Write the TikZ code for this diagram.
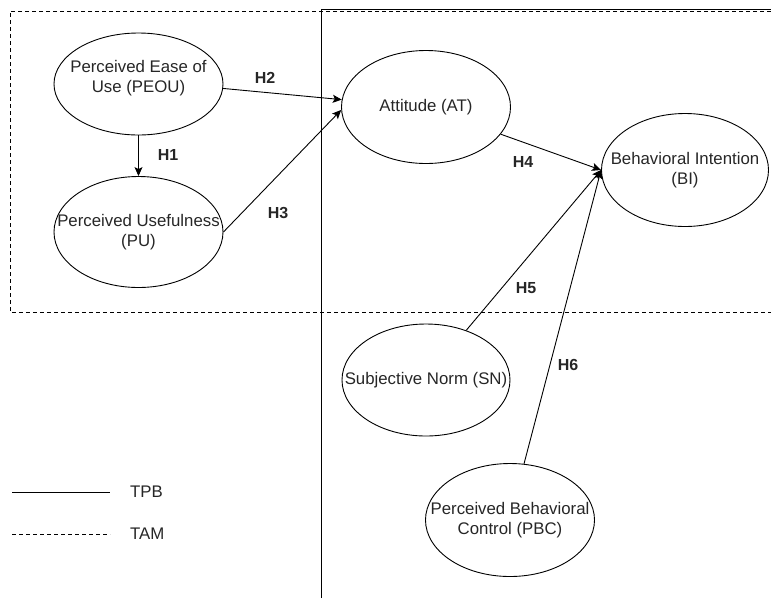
\documentclass[tikz,border=0pt]{standalone}
\usepackage{fontspec}
\setmainfont{Liberation Sans}
\usetikzlibrary{shapes.geometric,arrows.meta}
\begin{document}
\begin{tikzpicture}[x=1pt,y=-1pt,
  every node/.style={font=\fontsize{16.8}{20}\selectfont, text=black!85},
  construct/.style={draw=black, line width=0.9pt, ellipse, inner sep=0pt, minimum width=169pt, minimum height=#1},
  txt/.style={align=center, inner sep=0pt},
  hlabel/.style={font=\fontsize{16}{19}\selectfont\bfseries, inner sep=0pt},
  link/.style={draw=black, line width=0.9pt, -{Stealth[length=9pt,width=8pt,inset=2pt]}},
  tamline/.style={draw=black, line width=0.8pt, dash pattern=on 4pt off 3pt},
  tpbline/.style={draw=black, line width=0.9pt}
]
\useasboundingbox (0,0) rectangle (771,598);

% frames
\coordinate (d1) at (771,11);
\coordinate (d2) at (10,11);
\coordinate (d3) at (10,312);
\coordinate (d4) at (771,312);
\draw[tamline] (d1) -- (d2) -- (d3) -- (d4);
\coordinate (s1) at (321,598);
\coordinate (s2) at (321,9);
\coordinate (s3) at (771,9);
\draw[tpbline] (s1) -- (s2) -- (s3);

% constructs
\node[construct=102pt] (peou) at (138.5,84) {};
\node[txt] (peout) at (138.5,78) {Perceived Ease of\\Use (PEOU)};
\node[construct=111pt] (pu) at (138.5,232) {};
\node[txt] (put) at (pu.center) {Perceived Usefulness\\(PU)};
\node[construct=113pt] (at) at (426,107) {};
\node[txt] (att) at (at.center) {Attitude (AT)};
\node[construct=113pt, minimum width=167pt] (bi) at (685,170) {};
\node[txt] (bit) at (bi.center) {Behavioral Intention\\(BI)};
\node[construct=112pt, minimum width=168pt] (sn) at (426,380) {};
\node[txt] (snt) at (sn.center) {Subjective Norm (SN)};
\node[construct=113pt] (pbc) at (510,520) {};
\node[txt] (pbct) at (pbc.center) {Perceived Behavioral\\Control (PBC)};

% connectors
\draw[link] (peou.south) -- (pu.north);
\draw[link] (peou.-3) -- (at.175);
\draw[link] (pu.east) -- (at.182);
\draw[link] (at.-20) -- (bi.west);
\draw[link] (sn.51) -- (bi.west);
\draw[link] (pbc.76) -- (bi.west);

% hypothesis labels
\node[hlabel] (h1) at (168,155) {H1};
\node[hlabel] (h2) at (265,78) {H2};
\node[hlabel] (h3) at (278,213) {H3};
\node[hlabel] (h4) at (523,162) {H4};
\node[hlabel] (h5) at (526,288) {H5};
\node[hlabel] (h6) at (568,365) {H6};

% legend
\coordinate (la) at (12,492);
\coordinate (lb) at (110,492);
\draw[tpbline] (la) -- (lb);
\node[anchor=west, inner sep=0pt] (tpb) at (130,492) {TPB};
\coordinate (lc) at (12,534);
\coordinate (ld) at (110,534);
\draw[tamline] (lc) -- (ld);
\node[anchor=west, inner sep=0pt] (tam) at (130,534) {TAM};
\end{tikzpicture}
\end{document}
